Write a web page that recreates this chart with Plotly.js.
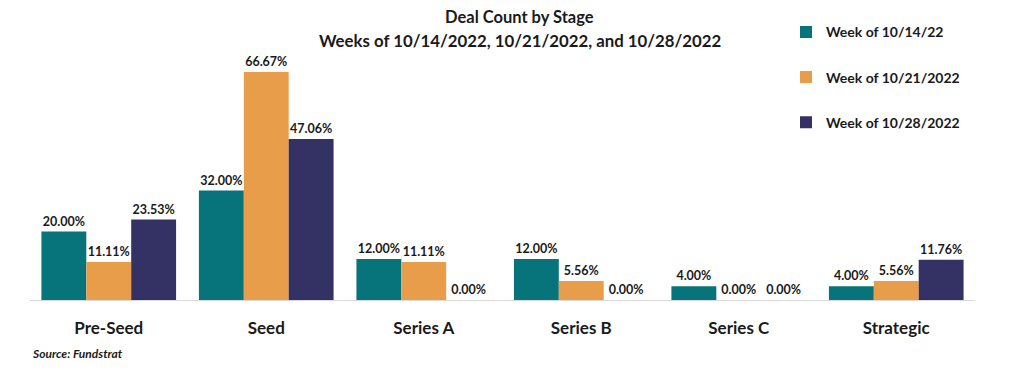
<!DOCTYPE html>
<html><head><meta charset="utf-8">
<script src="https://cdn.plot.ly/plotly-3.0.1.min.js"></script>
<style>html,body{margin:0;padding:0;background:#fff;}#chart{width:1024px;height:376px;}</style>
</head><body><div id="chart"></div>
<script>
const categories = ["Pre-Seed", "Seed", "Series A", "Series B", "Series C", "Strategic"];
const seriesNames = ["Week of 10/14/22", "Week of 10/21/2022", "Week of 10/28/2022"];
const week1014 = [20.00, 32.00, 12.00, 12.00, 4.00, 4.00];
const week1021 = [11.11, 66.67, 11.11, 5.56, 0.00, 5.56];
const week1028 = [23.53, 47.06, 0.00, 0.00, 0.00, 11.76];
const titleLines = ["Deal Count by Stage", "Weeks of 10/14/2022, 10/21/2022, and 10/28/2022"];
const sourceText = "Source: Fundstrat";
const colors = ["#07737A", "#E89D4A", "#343264"];
const FONT = "Lato, 'Open Sans', sans-serif";

const all = [week1014, week1021, week1028];
const traces = all.map((vals, i) => ({
  type: "bar",
  name: seriesNames[i],
  legendgroup: "g" + i,
  x: categories,
  y: vals,
  marker: {color: colors[i], line: {width: 0}},
  text: vals.map(v => v.toFixed(2) + "%"),
  textposition: "outside",
  cliponaxis: false,
  textfont: {family: FONT, size: 12.5, color: "#1a1a1a", weight: "bold"},
  hoverinfo: "skip"
}));

const layout = {
  width: 1024, height: 376,
  margin: {l: 30, r: 49, t: 60, b: 76},
  paper_bgcolor: "#fff", plot_bgcolor: "#fff",
  barmode: "group", bargap: 0.145, bargroupgap: 0,
  xaxis: {
    showline: true, linecolor: "#d9d9d9", linewidth: 1,
    ticks: "", tickfont: {family: FONT, size: 17, color: "#1a1a1a", weight: "bold"},
    ticklabelstandoff: 13,
    fixedrange: true
  },
  yaxis: {
    range: [0, 70.2], visible: false, showgrid: false, zeroline: false, fixedrange: true
  },
  showlegend: true,
  legend: {
    x: 0.80, xanchor: "left", y: 1.182, yanchor: "top",
    traceorder: "grouped", tracegroupgap: 24,
    font: {family: FONT, size: 14, color: "#1a1a1a", weight: "bold"},
    bgcolor: "rgba(0,0,0,0)", itemwidth: 30
  },
  annotations: [
    {text: "<b>" + titleLines[0] + "</b>", xref: "paper", yref: "paper", x: 0.5185, y: 1.179,
     xanchor: "center", yanchor: "middle", showarrow: false,
     font: {family: FONT, size: 16.5, color: "#1a1a1a"}},
    {text: "<b>" + titleLines[1] + "</b>", xref: "paper", yref: "paper", x: 0.5185, y: 1.083,
     xanchor: "center", yanchor: "middle", showarrow: false,
     font: {family: FONT, size: 16.8, color: "#1a1a1a"}},
    {text: "<b><i>" + sourceText + "</i></b>", xref: "paper", yref: "paper", x: 0.0, y: -0.221,
     xanchor: "left", yanchor: "middle", showarrow: false,
     font: {family: FONT, size: 12, color: "#1a1a1a"}}
  ]
};

Plotly.newPlot("chart", traces, layout, {displayModeBar: false, staticPlot: true});
</script></body></html>
